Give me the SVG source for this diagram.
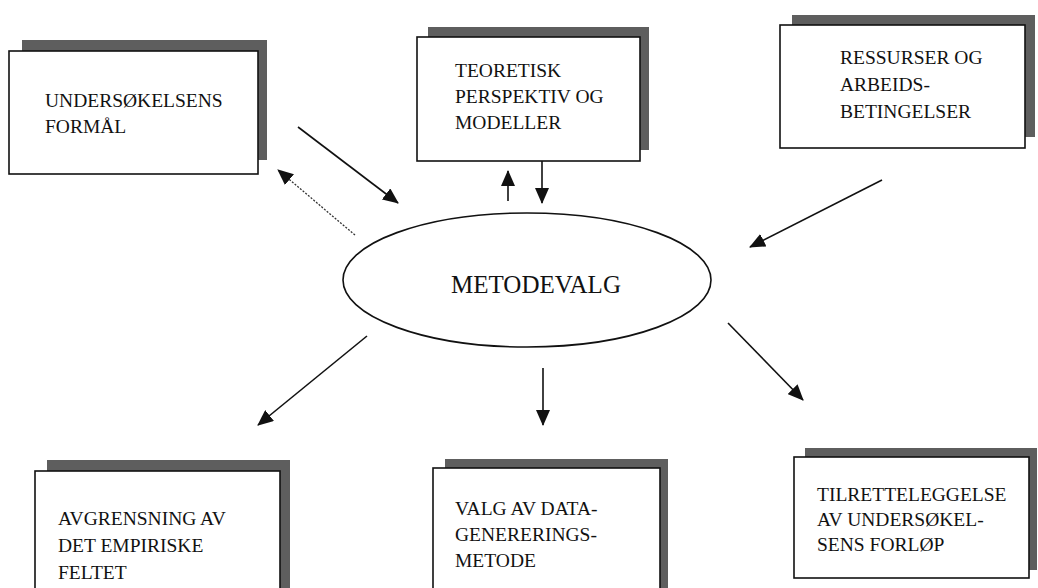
<svg xmlns="http://www.w3.org/2000/svg" width="1038" height="588" viewBox="0 0 1038 588">
<style>
.shadow{fill:#5e5e5e;}
.box{fill:#fff;stroke:#111;stroke-width:1.6;}
.t{font-family:"Liberation Serif","Times New Roman",serif;font-size:19.5px;fill:#111;}
.c{stroke:#111;stroke-width:1.6;fill:none;marker-end:url(#ah);}
.d{stroke:#333;stroke-width:1.3;stroke-dasharray:2 1.5;fill:none;marker-end:url(#ah);}
</style>
<defs>
<marker id="ah" markerUnits="userSpaceOnUse" markerWidth="16" markerHeight="14" refX="15" refY="7" orient="auto">
<path d="M0,0 L16,7 L0,14 Z" fill="#111"/>
</marker>
</defs>
<rect width="1038" height="588" fill="#fff"/>

<g id="node-formal">
<rect class="shadow" x="22" y="40" width="245" height="120"/>
<rect class="box" x="9" y="51" width="249" height="123"/>
<text class="t" x="45" y="107">UNDERSØKELSENS</text>
<text class="t" x="45" y="133">FORMÅL</text>
</g>

<g id="node-teoretisk">
<rect class="shadow" x="428" y="27" width="221" height="123"/>
<rect class="box" x="417" y="37" width="223" height="124"/>
<text class="t" x="455" y="77">TEORETISK</text>
<text class="t" x="455" y="103">PERSPEKTIV OG</text>
<text class="t" x="455" y="129">MODELLER</text>
</g>

<g id="node-ressurser">
<rect class="shadow" x="792" y="15" width="243" height="122"/>
<rect class="box" x="780" y="25" width="245" height="123"/>
<text class="t" x="840" y="64">RESSURSER OG</text>
<text class="t" x="840" y="91">ARBEIDS-</text>
<text class="t" x="840" y="118">BETINGELSER</text>
</g>

<g id="node-metodevalg">
<ellipse cx="527" cy="280" rx="184" ry="67" fill="#fff" stroke="#111" stroke-width="1.6"/>
<text x="536" y="293" text-anchor="middle" font-family="Liberation Serif, Times New Roman, serif" font-size="25px" fill="#111">METODEVALG</text>
</g>

<g id="node-avgrensning">
<rect class="shadow" x="47" y="460" width="243" height="140"/>
<rect class="box" x="35" y="471" width="245" height="140"/>
<text class="t" x="58" y="525">AVGRENSNING AV</text>
<text class="t" x="58" y="552">DET EMPIRISKE</text>
<text class="t" x="58" y="579">FELTET</text>
</g>

<g id="node-valg">
<rect class="shadow" x="445" y="459" width="223" height="140"/>
<rect class="box" x="433" y="468" width="227" height="140"/>
<text class="t" x="455" y="515">VALG AV DATA-</text>
<text class="t" x="455" y="541">GENERERINGS-</text>
<text class="t" x="455" y="567">METODE</text>
</g>

<g id="node-tilrettelegging">
<rect class="shadow" x="805" y="448" width="232" height="122"/>
<rect class="box" x="794" y="457" width="235" height="121"/>
<text class="t" x="817" y="501">TILRETTELEGGELSE</text>
<text class="t" x="817" y="526">AV UNDERSØKEL-</text>
<text class="t" x="817" y="551">SENS FORLØP</text>
</g>

<g id="connectors">
<line class="c" x1="298" y1="127" x2="398" y2="203"/>
<line class="d" x1="355" y1="235" x2="278" y2="170"/>
<line class="c" x1="508" y1="201" x2="508" y2="171"/>
<line class="c" x1="542" y1="161" x2="542" y2="203"/>
<line class="c" x1="882" y1="180" x2="750" y2="247"/>
<line class="c" x1="367" y1="336" x2="258" y2="425"/>
<line class="c" x1="543" y1="368" x2="543" y2="425"/>
<line class="c" x1="728" y1="323" x2="803" y2="400"/>
</g>
</svg>
